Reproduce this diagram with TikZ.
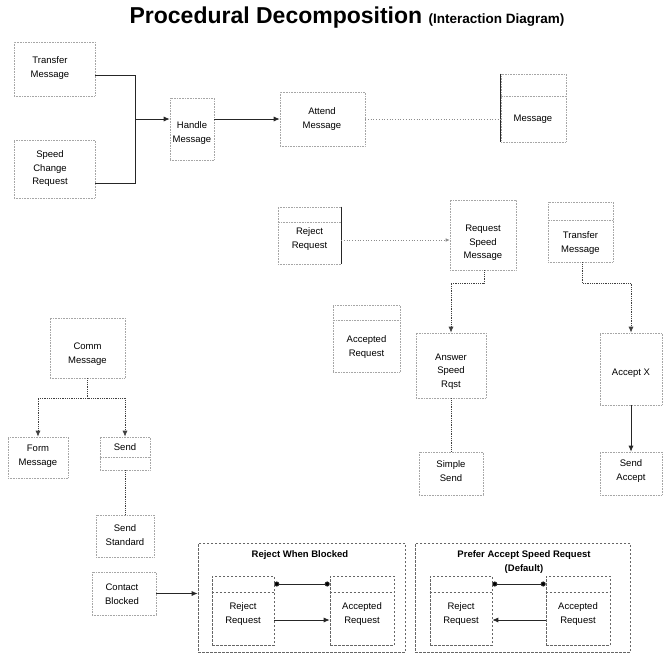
\documentclass[tikz,border=0pt]{standalone}
\usepackage{fontspec}
\setmainfont{Liberation Sans}
\usetikzlibrary{arrows.meta}

\tikzset{
  frame/.style={draw=black!35, densely dotted, line width=.6pt, inner sep=0pt},
  frameb/.style={draw=black!60, dash pattern=on 2.5pt off 1.5pt, line width=.6pt, inner sep=0pt},
  lbl/.style={font=\fontsize{9.5}{13.5}\selectfont, align=center, inner sep=0pt, text=black},
  hdr/.style={font=\bfseries\fontsize{9.5}{13.5}\selectfont, align=center, inner sep=0pt},
  link/.style={draw=black!85, line width=.8pt},
  dlink/.style={draw=black!75, line width=.8pt, densely dotted},
  faint/.style={draw=black!45, line width=.7pt, dotted},
  tip/.style={-{Latex[length=6pt,width=5pt]}},
  dots/.style={{Circle[length=5pt,fill=black]}-{Circle[length=5pt,fill=black]}},
}

% frame node spanning (x1,y1)-(x2,y2)
\newcommand{\frm}[6][frame]{%
  \node[#1, minimum width={#5-#3}, minimum height={#6-#4}] (#2) at ({(#3+#5)/2},{(#4+#6)/2}) {};}
% horizontal compartment line across a frame at height y
\newcommand{\splitline}[3][frame]{%
  \coordinate (tmpy) at (0,#3);
  \draw[#1] (#2.west |- tmpy) -- (#2.east |- tmpy);}

\begin{document}
\begin{tikzpicture}[x=1pt, y=-1pt]
\useasboundingbox (0,0) rectangle (665,667);
\fill[white] (0,0) rectangle (665,667);

% title
\node[inner sep=0pt, font=\bfseries\fontsize{23}{27}\selectfont] (title) at (347,18)
  {Procedural Decomposition {\fontsize{13.5}{15}\selectfont (Interaction Diagram)}};

% ---- top row ----
\frm{TM1}{14}{42}{95}{96}
\node[lbl] (TM1t) at (50,68) {Transfer\\Message};
\frm{SCR}{14}{140}{95}{198}
\node[lbl] (SCRt) at (50,169) {Speed\\Change\\Request};
\frm{HM}{170}{98}{214}{160}
\node[lbl] (HMt) at (192,133) {Handle\\Message};
\frm{AM}{280}{92}{365}{146}
\node[lbl] (AMt) at (322,119) {Attend\\Message};
\frm{MSG}{501}{74}{566}{142}
\splitline{MSG}{96}
\draw[link] (MSG.north west) -- (MSG.south west);
\node[lbl] (MSGt) at (533,119) {Message};

\coordinate (J) at (135,119);
\coordinate (bt) at (135,75);
\coordinate (bb) at (135,183);
\draw[link] (TM1.east |- bt) -- (bt) -- (bb) -- (SCR.east |- bb);
\draw[link, tip] (J) -- (HM.west |- J);
\draw[link, tip] (HM.east |- J) -- (AM.west |- J);
\draw[faint] (AM.east |- J) -- (MSG.west |- J);

% ---- second row ----
\frm{RR2}{278}{207}{341}{264}
\splitline{RR2}{222}
\draw[link] (RR2.north east) -- (RR2.south east);
\node[lbl] (RR2t) at (309.5,239) {Reject\\Request};
\frm{RSM}{450}{200}{516}{270}
\node[lbl] (RSMt) at (483,243) {Request\\Speed\\Message};
\frm{TM2}{548}{202}{613}{262}
\splitline{TM2}{220}
\node[lbl] (TM2t) at (580.5,243) {Transfer\\Message};
\coordinate (r1) at (0,240);
\draw[faint, -{Latex[length=4pt,width=3.5pt]}] (RR2.east |- r1) -- (RSM.west |- r1);

\frm{AR2}{333}{305}{400}{372}
\splitline{AR2}{320}
\node[lbl] (AR2t) at (366.5,347) {Accepted\\Request};

\frm{ASR}{416}{333}{486}{398}
\node[lbl] (ASRt) at (451,371.5) {Answer\\Speed\\Rqst};
\frm{AX}{600}{333}{662}{405}
\node[lbl] (AXt) at (631,373) {Accept X};

\coordinate (k1) at (484,283);
\coordinate (k2) at (582,283);
\draw[dlink, tip] (k1 |- RSM.south) -- (k1) -| (ASR.north);
\draw[dlink, tip] (k2 |- TM2.south) -- (k2) -| (AX.north);

\frm{SS}{419}{452}{483}{495}
\node[lbl] (SSt) at (451,471) {Simple\\Send};
\frm{SA}{600}{452}{662}{495}
\node[lbl] (SAt) at (631,471) {Send\\Accept};
\draw[dlink] (ASR.south) -- (SS.north);
\draw[link, tip] (AX.south) -- (SA.north);

% ---- communication branch ----
\frm{CM}{50}{318}{125}{378}
\node[lbl] (CMt) at (87.5,354) {Comm\\Message};
\frm{FM}{8}{437}{68}{478}
\node[lbl] (FMt) at (38,456) {Form\\Message};
\frm{SD}{100}{437}{150}{470}
\splitline{SD}{457}
\node[lbl] (SDt) at (125,447) {Send};
\frm{SST}{96}{515}{154}{557}
\node[lbl] (SSTt) at (125,535) {Send\\Standard};

\coordinate (cb) at (87.5,398);
\draw[dlink] (CM.south) -- (cb);
\draw[dlink, tip] (cb) -| (FM.north);
\draw[dlink, tip] (cb) -| (SD.north);
\draw[dlink] (SD.south) -- (SST.north);

% ---- blocking policies ----
\frm{CB}{92}{572}{156}{615}
\node[lbl] (CBt) at (122,594) {Contact\\Blocked};

\frm[frameb]{LF}{198}{543}{405}{652}
\node[hdr] (LFt) at (300,555) {Reject When Blocked};
\frm[frameb]{RF}{415}{543}{630}{652}
\node[hdr] (RFt) at (524,562) {Prefer Accept Speed Request\\(Default)};

\draw[link, tip] (CB.east) -- (LF.west |- CB.east);

\frm[frameb]{LRR}{212}{576}{274}{645}
\splitline[frameb]{LRR}{592}
\node[lbl] (LRRt) at (243,614) {Reject\\Request};
\frm[frameb]{LAR}{330}{576}{394}{645}
\splitline[frameb]{LAR}{592}
\node[lbl] (LARt) at (362,614) {Accepted\\Request};
\frm[frameb]{RRR}{430}{576}{492}{645}
\splitline[frameb]{RRR}{592}
\node[lbl] (RRRt) at (461,614) {Reject\\Request};
\frm[frameb]{RAR}{546}{576}{610}{645}
\splitline[frameb]{RAR}{592}
\node[lbl] (RARt) at (578,614) {Accepted\\Request};

\coordinate (t1) at (0,584);
\coordinate (t2) at (0,620);
\draw[link, dots] (LRR.east |- t1) -- (LAR.west |- t1);
\draw[link, tip] (LRR.east |- t2) -- (LAR.west |- t2);
\draw[link, dots] (RRR.east |- t1) -- (RAR.west |- t1);
\draw[link, tip] (RAR.west |- t2) -- (RRR.east |- t2);
\end{tikzpicture}
\end{document}
